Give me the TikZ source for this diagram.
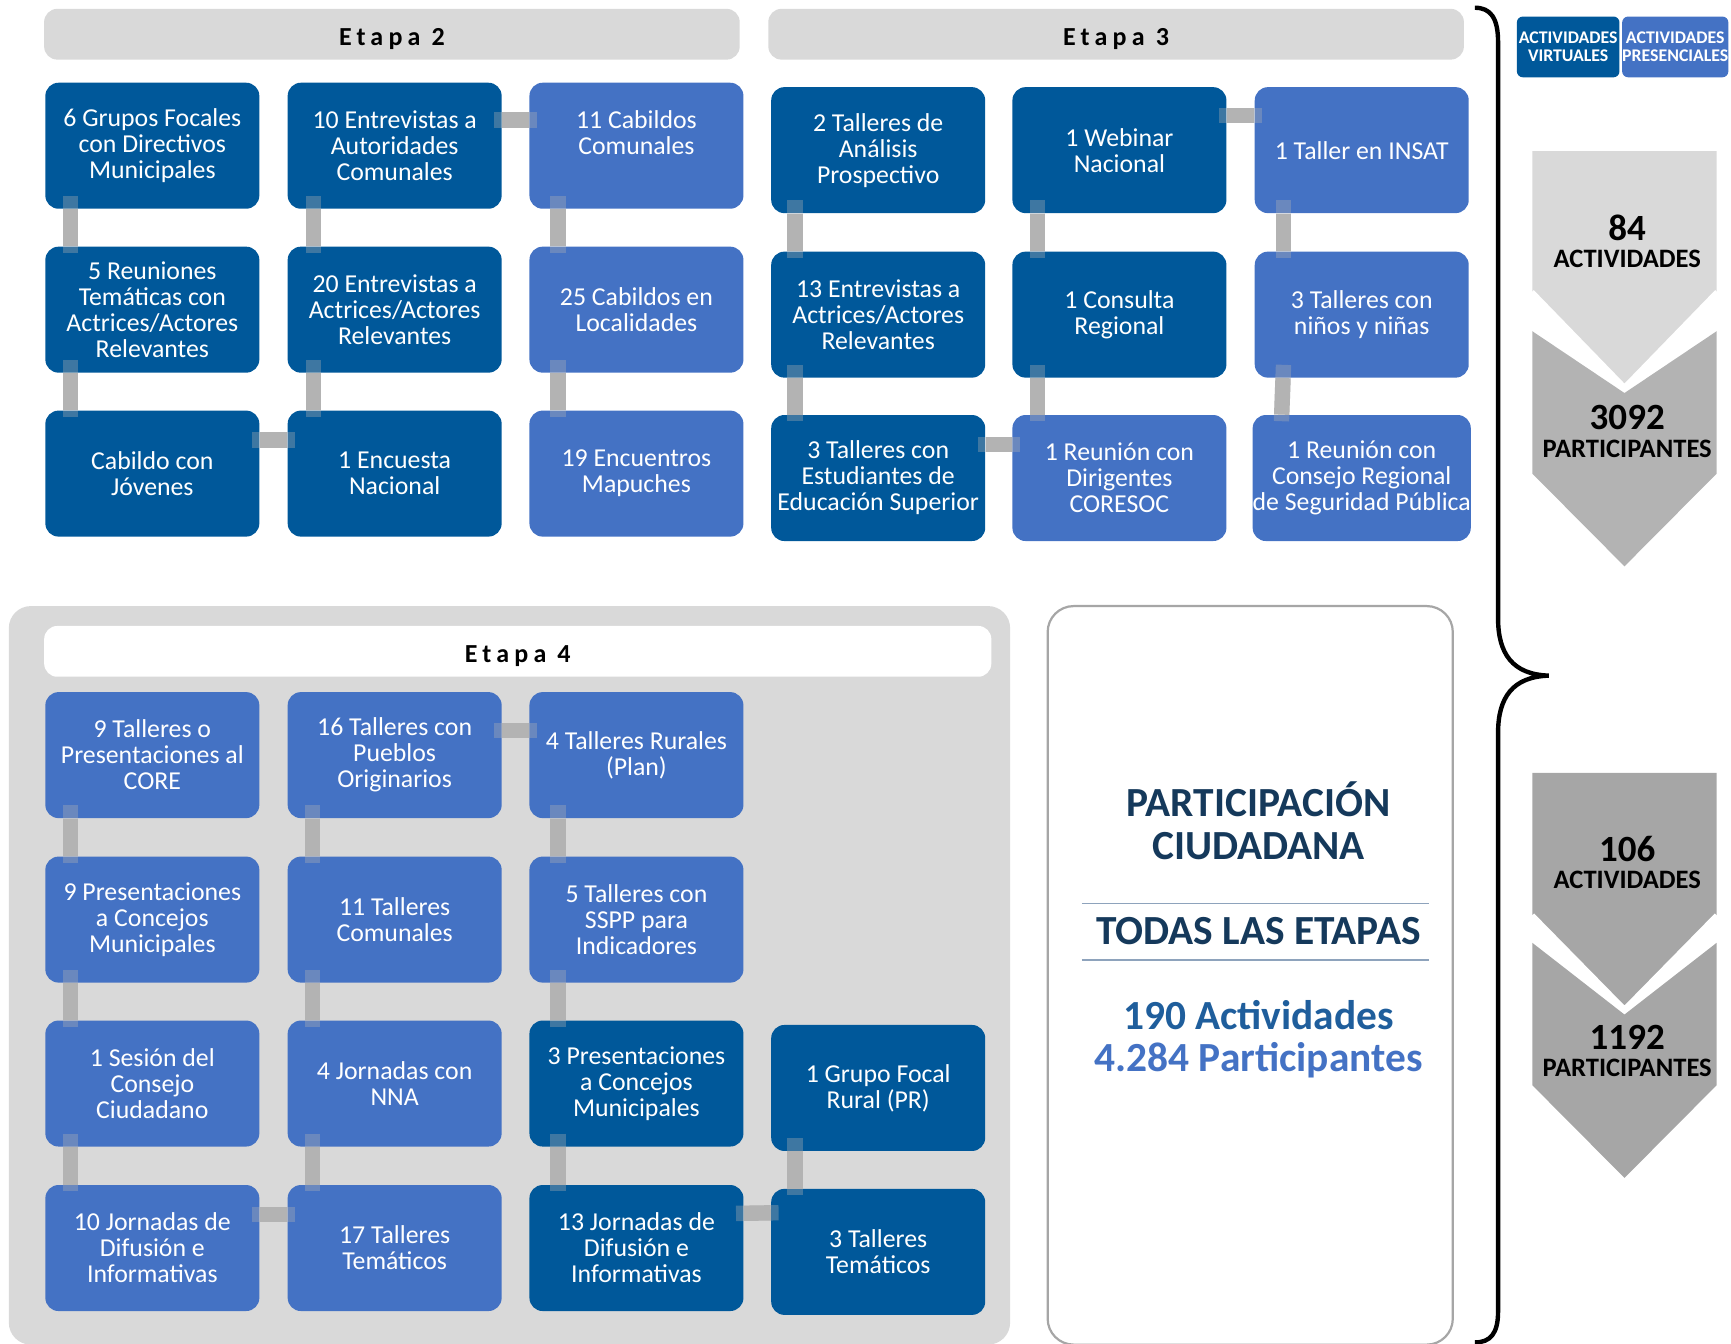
\documentclass[tikz,border=0pt]{standalone}
\usepackage{fontspec}
\setmainfont{Carlito}
\newfontfamily\etapafont[LetterSpace=20]{Carlito}
\usepackage{xcolor}
\usepackage{tikz}
\usetikzlibrary{calc}

\definecolor{virtual}{HTML}{00589A}
\definecolor{presencial}{HTML}{4472C4}
\definecolor{headgray}{HTML}{D9D9D9}
\definecolor{linkgray}{HTML}{B3B3B3}
\definecolor{chevlight}{HTML}{D9D9D9}
\definecolor{chevmid}{HTML}{B3B3B3}
\definecolor{chevdark}{HTML}{A6A6A6}
\definecolor{titlenavy}{HTML}{15395B}
\definecolor{actblue}{HTML}{1F5E9C}
\definecolor{rulegray}{HTML}{8EA3BC}

\tikzset{
  box/.style={rectangle, rounded corners=6.6pt, minimum width=107pt, minimum height=63pt,
    inner sep=0pt, align=center, text=white, font=\fontsize{12.9}{13}\selectfont},
  virt/.style={box, fill=virtual},
  pres/.style={box, fill=presencial},
  etapa/.style={rectangle, rounded corners=6.6pt, fill=headgray, minimum width=347.8pt,
    minimum height=25.4pt, text height=10.8pt, text depth=0pt,
    font=\fontsize{13}{13}\selectfont\etapafont\bfseries},
  vlink/.style={line width=7.7pt, draw=linkgray, draw opacity=0.35,
    preaction={draw=linkgray, draw opacity=1, line width=7.7pt, shorten <=6.6pt, shorten >=3.3pt}},
  hlink/.style={line width=7.7pt, draw=linkgray, draw opacity=0.35,
    preaction={draw=linkgray, draw opacity=1, line width=7.7pt, shorten <=3.9pt, shorten >=3.9pt}},
  legend/.style={rectangle, rounded corners=3pt, minimum width=51.3pt, minimum height=30.4pt,
    inner sep=0pt, align=center, text=white, font=\fontsize{8.9}{9}\selectfont\bfseries},
  bignum/.style={anchor=base, inner sep=0pt, font=\fontsize{18.5}{19}\selectfont\bfseries},
  bigword/.style={anchor=base, inner sep=0pt, font=\fontsize{13.3}{14}\selectfont\bfseries},
  resumen/.style={anchor=base, inner sep=0pt, font=\fontsize{20.7}{21.5}\selectfont\bfseries},
}

\begin{document}
\begin{tikzpicture}[x=0.552pt, y=-0.552pt]
    \useasboundingbox (0,0) rectangle (1568,1217);

    % fondos
    \fill[headgray, rounded corners=11pt] (8,549) rectangle (915,1218);
    \draw[chevdark, line width=1.1pt, fill=white, rounded corners=13pt] (949,549) rectangle (1316,1218);

    % Etapa 2
    \node[etapa] (et2) at (355,31) {Etapa 2};
    \node[virt] (e2a) at (138,132) {6 Grupos Focales\\con Directivos\\Municipales};
    \node[virt] (e2b) at (357.5,132) {10 Entrevistas a\\Autoridades\\Comunales};
    \node[pres] (e2c) at (576.5,132) {11 Cabildos\\Comunales\\\mbox{}};
    \node[virt] (e2d) at (138,280.5) {5 Reuniones\\Temáticas con\\Actrices/Actores\\Relevantes};
    \node[virt] (e2e) at (357.5,280.5) {20 Entrevistas a\\Actrices/Actores\\Relevantes};
    \node[pres] (e2f) at (576.5,280.5) {25 Cabildos en\\Localidades};
    \node[virt] (e2g) at (138,429) {Cabildo con\\Jóvenes};
    \node[virt] (e2h) at (357.5,429) {1 Encuesta\\Nacional};
    \node[pres] (e2i) at (576.5,429) {19 Encuentros\\Mapuches};
    \draw[vlink] ([shift={(12.7pt,6.6pt)}]e2a.south west) -- ([shift={(12.7pt,-3.3pt)}]e2d.north west);
    \draw[vlink] ([shift={(12.7pt,6.6pt)}]e2d.south west) -- ([shift={(12.7pt,-3.3pt)}]e2g.north west);
    \draw[vlink] ([shift={(13pt,6.6pt)}]e2b.south west) -- ([shift={(13pt,-3.3pt)}]e2e.north west);
    \draw[vlink] ([shift={(13pt,6.6pt)}]e2e.south west) -- ([shift={(13pt,-3.3pt)}]e2h.north west);
    \draw[vlink] ([shift={(14.4pt,6.6pt)}]e2c.south west) -- ([shift={(14.4pt,-3.3pt)}]e2f.north west);
    \draw[vlink] ([shift={(14.4pt,6.6pt)}]e2f.south west) -- ([shift={(14.4pt,-3.3pt)}]e2i.north west);
    \draw[hlink] ([shift={(-3.9pt,-18.8pt)}]e2b.north east) -- ([shift={(3.9pt,-18.8pt)}]e2c.north west);
    \draw[hlink] ([shift={(-3.9pt,-14.9pt)}]e2g.north east) -- ([shift={(3.9pt,-14.9pt)}]e2h.north west);

    % Etapa 3
    \node[etapa] (et3) at (1011,31) {Etapa 3};
    \node[virt] (e3a) at (795.5,136) {2 Talleres de\\Análisis\\Prospectivo};
    \node[virt] (e3b) at (1014,136) {1 Webinar\\Nacional};
    \node[pres] (e3c) at (1233.5,136) {1 Taller en INSAT};
    \node[virt] (e3d) at (795.5,285) {13 Entrevistas a\\Actrices/Actores\\Relevantes};
    \node[virt] (e3e) at (1014,285) {1 Consulta\\Regional};
    \node[pres] (e3f) at (1233.5,285) {3 Talleres con\\niños y niñas};
    \node[virt] (e3g) at (795.5,433) {3 Talleres con\\Estudiantes de\\Educación Superior};
    \node[pres] (e3h) at (1014,433) {1 Reunión con\\Dirigentes\\CORESOC};
    \node[pres] (e3i) at (1233.5,433) {1 Reunión con\\Consejo Regional\\de Seguridad Pública};
    \draw[vlink] ([shift={(12.1pt,6.6pt)}]e3a.south west) -- ([shift={(12.1pt,-3.3pt)}]e3d.north west);
    \draw[vlink] ([shift={(12.1pt,6.6pt)}]e3d.south west) -- ([shift={(12.1pt,-3.3pt)}]e3g.north west);
    \draw[vlink] ([shift={(12.7pt,6.6pt)}]e3b.south west) -- ([shift={(12.7pt,-3.3pt)}]e3e.north west);
    \draw[vlink] ([shift={(12.7pt,6.6pt)}]e3e.south west) -- ([shift={(12.7pt,-3.3pt)}]e3h.north west);
    \draw[vlink] ([shift={(14.6pt,6.6pt)}]e3c.south west) -- ([shift={(14.6pt,-3.3pt)}]e3f.north west);
    \draw[vlink] ([shift={(14.6pt,6.6pt)}]e3f.south west) -- ([shift={(14.6pt,-3.3pt)}]e3i.north west);
    \draw[hlink] ([shift={(-3.9pt,-14.4pt)}]e3b.north east) -- ([shift={(3.9pt,-14.4pt)}]e3c.north west);
    \draw[hlink] ([shift={(-3.9pt,-14.9pt)}]e3g.north east) -- ([shift={(3.9pt,-14.9pt)}]e3h.north west);

    % Etapa 4
    \node[etapa, fill=white, minimum width=473.6pt] (et4) at (469,590) {Etapa 4};
    \node[pres] (e4a) at (138,684) {9 Talleres o\\Presentaciones al\\CORE};
    \node[pres] (e4b) at (357.5,684) {16 Talleres con\\Pueblos\\Originarios};
    \node[pres] (e4c) at (576.5,684) {4 Talleres Rurales\\(Plan)};
    \node[pres] (e4d) at (138,833) {9 Presentaciones\\a Concejos\\Municipales};
    \node[pres] (e4e) at (357.5,833) {11 Talleres\\Comunales};
    \node[pres] (e4f) at (576.5,833) {5 Talleres con\\SSPP para\\Indicadores};
    \node[pres] (e4g) at (138,981.5) {1 Sesión del\\Consejo\\Ciudadano};
    \node[pres] (e4h) at (357.5,981.5) {4 Jornadas con\\NNA};
    \node[virt] (e4i) at (576.5,981.5) {3 Presentaciones\\a Concejos\\Municipales};
    \node[virt] (e4j) at (795.5,985.5) {1 Grupo Focal\\Rural (PR)};
    \node[pres] (e4k) at (138,1130.5) {10 Jornadas de\\Difusión e\\Informativas};
    \node[pres] (e4l) at (357.5,1130.5) {17 Talleres\\Temáticos};
    \node[virt] (e4m) at (576.5,1130.5) {13 Jornadas de\\Difusión e\\Informativas};
    \node[virt] (e4n) at (795.5,1134) {3 Talleres\\Temáticos};
    \draw[vlink] ([shift={(12.7pt,6.6pt)}]e4a.south west) -- ([shift={(12.7pt,-3.3pt)}]e4d.north west);
    \draw[vlink] ([shift={(12.7pt,6.6pt)}]e4d.south west) -- ([shift={(12.7pt,-3.3pt)}]e4g.north west);
    \draw[vlink] ([shift={(12.7pt,6.6pt)}]e4g.south west) -- ([shift={(12.7pt,-3.3pt)}]e4k.north west);
    \draw[vlink] ([shift={(12.7pt,6.6pt)}]e4b.south west) -- ([shift={(12.7pt,-3.3pt)}]e4e.north west);
    \draw[vlink] ([shift={(12.7pt,6.6pt)}]e4e.south west) -- ([shift={(12.7pt,-3.3pt)}]e4h.north west);
    \draw[vlink] ([shift={(12.7pt,6.6pt)}]e4h.south west) -- ([shift={(12.7pt,-3.3pt)}]e4l.north west);
    \draw[vlink] ([shift={(14.4pt,6.6pt)}]e4c.south west) -- ([shift={(14.4pt,-3.3pt)}]e4f.north west);
    \draw[vlink] ([shift={(14.4pt,6.6pt)}]e4f.south west) -- ([shift={(14.4pt,-3.3pt)}]e4i.north west);
    \draw[vlink] ([shift={(14.4pt,6.6pt)}]e4i.south west) -- ([shift={(14.4pt,-3.3pt)}]e4m.north west);
    \draw[vlink] ([shift={(12.1pt,6.6pt)}]e4j.south west) -- ([shift={(12.1pt,-3.3pt)}]e4n.north west);
    \draw[hlink] ([shift={(-3.9pt,-19.3pt)}]e4b.north east) -- ([shift={(3.9pt,-19.3pt)}]e4c.north west);
    \draw[hlink] ([shift={(-3.9pt,-14.9pt)}]e4k.north east) -- ([shift={(3.9pt,-14.9pt)}]e4l.north west);
    \draw[hlink] ([shift={(-3.9pt,-14.4pt)}]e4m.north east) -- ([shift={(3.9pt,-12.1pt)}]e4n.north west);

    % resumen
    \node[resumen, text=titlenavy] (tit1) at (1140,740) {PARTICIPACIÓN};
    \node[resumen, text=titlenavy] (tit2) at (1140,779) {CIUDADANA};
    \node[resumen, text=titlenavy] (todas) at (1140,856) {TODAS LAS ETAPAS};
    \node[resumen, text=actblue] (nact) at (1140,932.5) {190 Actividades};
    \node[resumen, text=presencial] (npart) at (1140,971) {4.284 Participantes};
    \draw[rulegray, line width=0.9pt] (980,818.5) -- (1294,818.5);
    \draw[rulegray, line width=0.9pt] (980,869.5) -- (1294,869.5);

    % llave
    \draw[line width=2.2pt] (1336,7) .. controls (1350,7) and (1357,16) .. (1357,38)
        -- (1357,560) .. controls (1357,592) and (1370,611) .. (1403,612)
        .. controls (1370,613) and (1357,632) .. (1357,664)
        -- (1357,1188) .. controls (1357,1208) and (1350,1216) .. (1336,1216);

    % leyenda
    \node[legend, fill=virtual] (lvirt) at (1420.5,42.5) {ACTIVIDADES\\VIRTUALES};
    \node[legend, fill=presencial, minimum width=52.4pt] (lpres) at (1517.5,42.5) {ACTIVIDADES\\PRESENCIALES};

    % cheurones
    \fill[chevmid] (1388,300) -- (1471.5,356) -- (1555,300) -- (1555,429) -- (1471.5,513) -- (1388,429) -- cycle;
    \fill[chevlight] (1388,137) -- (1555,137) -- (1555,264) -- (1471.5,350) -- (1388,264) -- cycle;
    \draw[white, line width=2pt] (1388,264) -- (1471.5,350) -- (1555,264);
    \fill[chevdark] (1388,854) -- (1471.5,919) -- (1555,854) -- (1555,983) -- (1471.5,1067) -- (1388,983) -- cycle;
    \fill[chevdark] (1388,700) -- (1555,700) -- (1555,829) -- (1471.5,914) -- (1388,829) -- cycle;
    \draw[white, line width=2.5pt] (1388,829) -- (1471.5,914) -- (1555,829);
    \node[bignum] (n84) at (1474,217.5) {84};
    \node[bigword] (a84) at (1474,242) {ACTIVIDADES};
    \node[bignum] (n3092) at (1474,389.5) {3092};
    \node[bigword] (p3092) at (1474,414) {PARTICIPANTES};
    \node[bignum] (n106) at (1474,780) {106};
    \node[bigword] (a106) at (1474,804.5) {ACTIVIDADES};
    \node[bignum] (n1192) at (1474,951) {1192};
    \node[bigword] (p1192) at (1474,975.5) {PARTICIPANTES};
\end{tikzpicture}
\end{document}
